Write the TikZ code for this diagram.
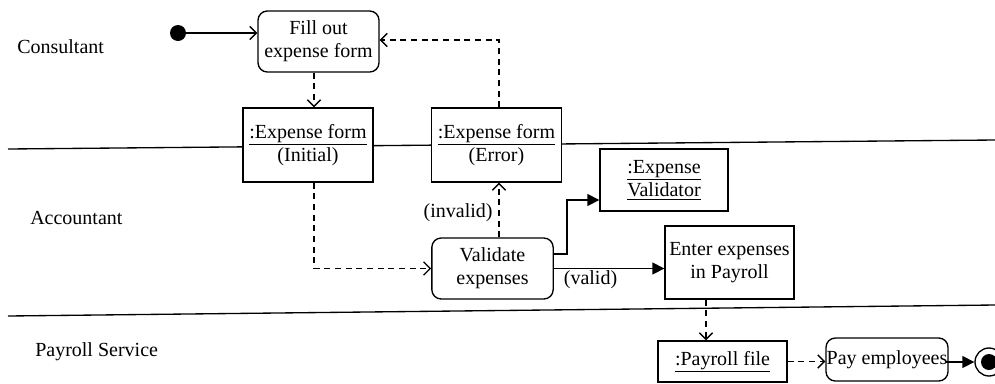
\documentclass[tikz,border=0pt]{standalone}
\usepackage{fontspec}
\setmainfont{Liberation Serif}
\usetikzlibrary{arrows.meta,calc}
\begin{document}
\begin{tikzpicture}[x=0.75pt,y=-0.75pt,
  every node/.style={font=\fontsize{15}{17.5}\selectfont},
  base/.style={draw, line width=1pt, fill=white, align=center, inner sep=0pt},
  objbox/.style={base},
  actbox/.style={base, rounded corners=7pt},
  flow/.style={line width=1pt, -{Triangle[length=9pt,width=9pt]}},
  openflow/.style={line width=1pt, -{Straight Barb[length=5pt,width=10pt]}},
  objflow/.style={openflow, dash pattern=on 4.5pt off 3.5pt},
  lane/.style={line width=1pt},
  lanelabel/.style={anchor=west, inner sep=0pt}]
\useasboundingbox (0,0) rectangle (995,383);

% swimlane separators
\draw[lane] (8,149) -- (995,140);
\draw[lane] (8,316) -- (995,305);

% lane labels
\node[lanelabel] (lc) at (17,47) {Consultant};
\node[lanelabel] (la) at (30,218) {Accountant};
\node[lanelabel] (lp) at (35,352) {Payroll Service};

% nodes
\node[circle, fill=black, inner sep=0pt, minimum size=12pt] (start) at (178,33) {};
\node[actbox, minimum width=90.75pt, minimum height=45.75pt] (fill) at (318.5,41.5) {Fill out\\expense form};
\node[objbox, minimum width=97.5pt, minimum height=55.5pt] (init) at (308,145) {\underline{:Expense form}\\(Initial)};
\node[objbox, minimum width=97.5pt, minimum height=55.5pt] (err) at (496.5,145) {\underline{:Expense form}\\(Error)};
\node[actbox, minimum width=91pt, minimum height=45.75pt] (val) at (492.5,268.5) {Validate\\expenses};
\node[objbox, minimum width=96pt, minimum height=46.5pt] (vdr) at (664,180) {\underline{:Expense}\\\underline{Validator}};
\node[objbox, minimum width=96.75pt, minimum height=54.75pt] (enter) at (729.5,262.5) {Enter expenses\\in Payroll};
\node[objbox, minimum width=96.75pt, minimum height=30.75pt] (pfile) at (722.5,361.5) {\underline{:Payroll file}};
\node[actbox, minimum width=91.5pt, minimum height=32.25pt] (pay) at (887,359.5) {Pay employees};
\node[circle, draw, line width=1pt, fill=white, minimum size=21pt, inner sep=0pt] (end) at (989,362) {};
\node[circle, fill=black, minimum size=12pt, inner sep=0pt] (endin) at (end.center) {};

% helper coordinates
\coordinate (c1) at (314,0);
\coordinate (c2) at (499,0);
\coordinate (c3) at (567,0);
\coordinate (c4) at (706,0);
\coordinate (vsrc) at ($(val.east)+(0,-14.5)$);
\coordinate (vin) at ($(vdr.west)+(0,20)$);

% connectors
\draw[openflow] (start) -- (start -| fill.west);
\draw[objflow] (c1 |- fill.south) -- (c1 |- init.north);
\draw[objflow] (c2 |- err.north) |- ($(fill.east)+(0,-1.5)$);
\draw[objflow] (c1 |- init.south) |- (val.west);
\draw[objflow] (c2 |- val.north) -- (c2 |- err.south)
  node[pos=0.45, left=1pt] (linv) {(invalid)};
\draw[flow] (vsrc) -| (c3 |- vin) -- (vin);
\draw[flow] (val.east) -- (val.east -| enter.west)
  node[pos=0, anchor=north west, xshift=7pt, yshift=-1pt, inner sep=0pt] (lval) {(valid)};
\draw[objflow] (c4 |- enter.south) -- (c4 |- pfile.north);
\draw[objflow] (pfile.east) -- (pfile.east -| pay.west);
\draw[flow] ($(pay.east)+(-4,2.5)$) -- (end.west);
\end{tikzpicture}
\end{document}
